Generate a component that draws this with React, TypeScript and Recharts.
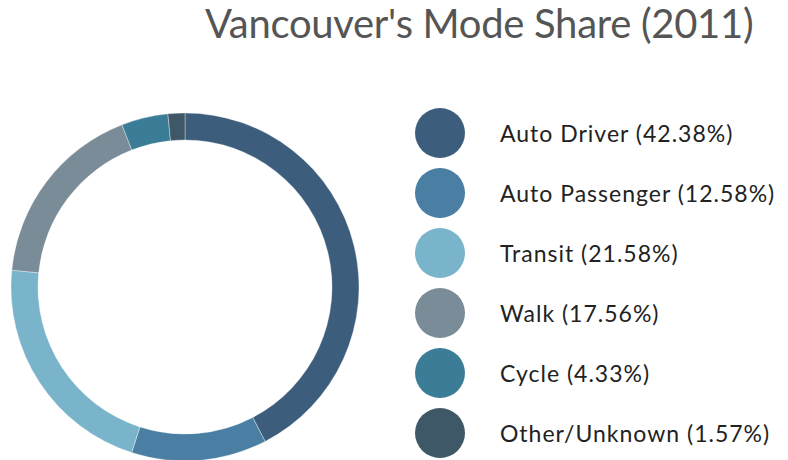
import React from "react";
import { PieChart, Pie, Cell, Legend } from "recharts";

const modes = ["Auto Driver", "Auto Passenger", "Transit", "Walk", "Cycle", "Other/Unknown"];
const shares = [42.38, 12.58, 21.58, 17.56, 4.33, 1.57];
const colors = ["#3c5d7b", "#4a7ea3", "#79b4cb", "#7a8c98", "#3b7c96", "#3f5868"];

const data = modes.map((m, i) => ({ name: m, value: shares[i] }));

const FONT = "Lato, 'Open Sans', sans-serif";

const LegendContent = () => (
  <div style={{ fontFamily: FONT }}>
    {data.map((d, i) => (
      <div key={d.name} style={{ display: "flex", alignItems: "center", height: 60 }}>
        <div
          style={{
            width: 50,
            height: 50,
            borderRadius: 25,
            background: colors[i],
            flexShrink: 0,
          }}
        />
        <span
          style={{
            marginLeft: 35,
            fontSize: 23,
            letterSpacing: 1,
            color: "#222",
            whiteSpace: "nowrap",
          }}
        >
          {d.name} ({d.value.toFixed(2)}%)
        </span>
      </div>
    ))}
  </div>
);

export default function App() {
  return (
    <div style={{ position: "absolute", left: 0, top: 0, width: 788, height: 460, background: "#fff" }}>
      <div
        style={{
          position: "absolute",
          left: 0,
          top: -1,
          width: 788,
          paddingLeft: 205,
          boxSizing: "border-box",
          fontFamily: FONT,
          fontSize: 40,
          letterSpacing: -0.3,
          color: "#555",
          whiteSpace: "nowrap",
        }}
      >
        Vancouver's Mode Share (2011)
      </div>
      <PieChart width={788} height={460}>
        <Pie
          data={data}
          dataKey="value"
          nameKey="name"
          cx={180}
          cy={282}
          innerRadius={147}
          outerRadius={174}
          startAngle={90}
          endAngle={-270}
          stroke="rgba(255,255,255,0.35)"
          strokeWidth={1}
          isAnimationActive={false}
        >
          {data.map((d, i) => (
            <Cell key={d.name} fill={colors[i]} />
          ))}
        </Pie>
        <Legend
          layout="vertical"
          content={<LegendContent />}
          wrapperStyle={{ position: "absolute", left: 415, top: 103, width: 373 }}
        />
      </PieChart>
    </div>
  );
}
